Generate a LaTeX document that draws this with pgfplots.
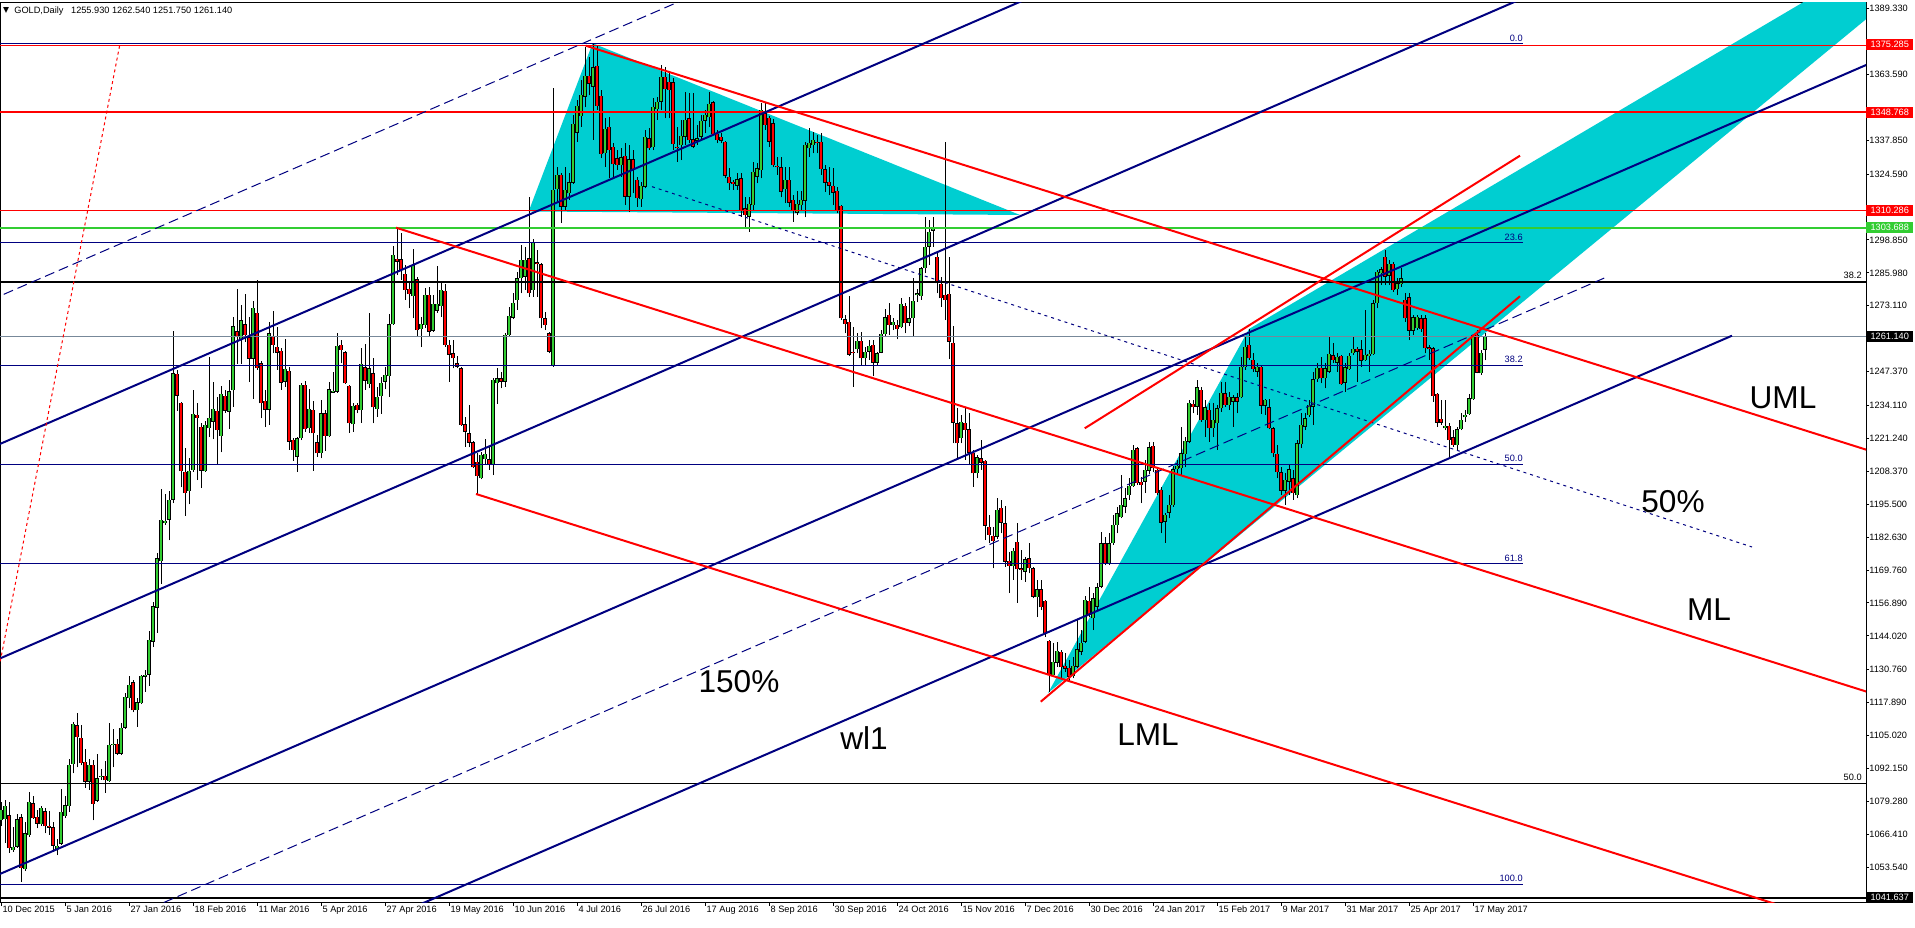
\documentclass[border=0pt]{standalone}
\usepackage{pgfplots}
\pgfplotsset{compat=1.18}
\usepackage{pgfplotstable}
\usepackage{fontspec}
\usetikzlibrary{backgrounds}
\setmainfont{Liberation Sans}
\newfontfamily\dejavu{DejaVu Sans}
\definecolor{mtnavy}{RGB}{0,0,128}
\definecolor{mtred}{RGB}{255,0,0}
\definecolor{mtgreen}{RGB}{50,205,50}
\definecolor{mtcyan}{RGB}{0,206,209}
\definecolor{mtgray}{RGB}{119,136,153}
\newcommand\mt{\fontsize{4.6}{5}\selectfont}
\newcommand\lbl{\fontsize{15.8}{18}\selectfont}

\pgfplotstableread{
i o h l c
0 1071.9 1079.0 1069.5 1075.9
1 1072.4 1079.9 1063.1 1077.5
2 1073.9 1079.1 1059.1 1061.0
3 1060.2 1069.2 1059.6 1061.5
4 1061.5 1074.3 1061.2 1072.2
5 1073.0 1074.3 1047.9 1053.2
6 1052.8 1071.1 1052.0 1066.8
7 1066.0 1083.0 1065.5 1079.1
8 1078.6 1081.4 1072.4 1072.7
9 1073.2 1075.9 1068.7 1070.6
10 1070.3 1077.5 1069.8 1076.7
11 1075.4 1076.7 1066.8 1069.5
12 1069.8 1075.5 1066.3 1069.0
13 1069.2 1071.1 1059.6 1062.0
14 1060.7 1064.7 1058.3 1062.0
15 1062.8 1084.2 1062.2 1075.1
16 1073.5 1081.4 1072.7 1077.8
17 1077.5 1095.8 1075.1 1093.7
18 1093.9 1110.4 1090.2 1109.6
19 1109.0 1113.8 1092.6 1104.5
20 1104.2 1109.3 1093.4 1094.2
21 1094.7 1099.8 1084.6 1087.0
22 1087.0 1095.8 1083.8 1093.7
23 1093.7 1095.3 1071.9 1078.3
24 1079.5 1097.9 1079.1 1088.3
25 1088.9 1091.8 1087.8 1089.4
26 1089.4 1095.0 1082.7 1087.5
27 1087.3 1109.8 1087.0 1101.4
28 1101.2 1107.7 1092.6 1101.7
29 1101.7 1103.7 1097.4 1097.9
30 1097.9 1109.8 1097.4 1108.1
31 1108.1 1121.8 1107.7 1120.2
32 1119.7 1128.5 1115.7 1124.9
33 1125.9 1126.9 1114.1 1114.9
34 1114.9 1119.7 1108.5 1118.1
35 1117.8 1128.9 1117.3 1128.5
36 1128.1 1130.8 1122.1 1128.9
37 1128.9 1146.0 1124.5 1142.5
38 1141.7 1157.1 1139.6 1155.5
39 1155.1 1176.3 1145.2 1174.4
40 1173.1 1201.4 1164.3 1189.3
41 1188.1 1199.4 1187.4 1189.0
42 1189.5 1200.5 1181.4 1197.3
43 1197.3 1263.1 1195.9 1246.7
44 1246.4 1248.0 1232.0 1237.9
45 1235.2 1235.5 1202.1 1208.4
46 1208.1 1217.4 1190.9 1199.8
47 1200.6 1213.7 1195.4 1208.6
48 1208.9 1240.0 1208.1 1230.8
49 1230.4 1235.2 1204.9 1229.2
50 1225.7 1227.3 1201.8 1208.6
51 1208.4 1228.1 1208.1 1226.5
52 1225.3 1253.2 1221.7 1229.2
53 1227.7 1243.2 1220.9 1232.8
54 1232.0 1237.6 1211.3 1224.5
55 1222.2 1241.6 1215.8 1238.7
56 1237.9 1240.0 1231.2 1232.0
57 1231.7 1244.0 1224.9 1239.7
58 1240.0 1268.7 1233.6 1265.0
59 1263.1 1279.5 1250.4 1260.7
60 1259.9 1273.5 1250.4 1267.4
61 1265.8 1277.9 1259.1 1261.5
62 1260.7 1268.7 1243.2 1252.4
63 1252.4 1275.1 1236.8 1272.2
64 1270.3 1283.0 1248.0 1248.8
65 1250.6 1251.5 1229.1 1234.9
66 1236.0 1240.2 1225.6 1232.4
67 1232.4 1266.9 1226.5 1262.3
68 1261.4 1271.2 1254.5 1257.8
69 1257.1 1264.9 1248.0 1254.8
70 1255.4 1256.5 1240.2 1243.0
71 1243.4 1260.1 1241.5 1248.4
72 1247.6 1249.3 1216.7 1220.0
73 1220.6 1221.3 1212.5 1216.7
74 1214.1 1221.9 1208.2 1221.3
75 1221.3 1243.0 1220.6 1242.1
76 1242.1 1243.8 1223.9 1224.8
77 1225.2 1240.4 1223.5 1232.7
78 1232.3 1236.0 1208.6 1223.2
79 1219.7 1222.6 1214.1 1215.4
80 1215.4 1236.3 1213.4 1231.0
81 1231.0 1232.3 1216.4 1222.2
82 1222.2 1243.2 1221.7 1240.4
83 1239.1 1247.3 1238.9 1239.8
84 1239.5 1262.3 1239.1 1257.4
85 1257.8 1259.7 1250.6 1255.8
86 1254.9 1255.5 1242.5 1242.8
87 1241.7 1242.0 1223.5 1227.1
88 1226.7 1235.0 1223.9 1233.9
89 1234.3 1235.0 1231.0 1232.3
90 1232.3 1256.5 1227.4 1250.3
91 1249.0 1258.2 1240.2 1243.8
92 1242.5 1270.1 1240.8 1248.6
93 1246.7 1252.5 1227.1 1233.4
94 1232.7 1241.5 1229.7 1237.6
95 1237.8 1245.4 1230.8 1243.0
96 1243.4 1249.3 1240.4 1246.0
97 1245.6 1269.8 1237.6 1265.8
98 1265.8 1296.5 1265.6 1293.0
99 1291.4 1303.6 1285.1 1290.4
100 1291.3 1301.4 1283.2 1287.1
101 1285.5 1289.0 1275.4 1279.3
102 1279.7 1282.5 1272.1 1277.7
103 1276.9 1295.2 1268.2 1289.0
104 1283.4 1284.5 1261.0 1263.6
105 1263.9 1268.8 1256.9 1266.0
106 1265.6 1279.9 1264.3 1277.3
107 1277.3 1280.3 1261.0 1263.0
108 1263.4 1277.3 1263.0 1273.8
109 1271.2 1288.7 1270.4 1273.8
110 1273.0 1282.5 1268.8 1279.3
111 1278.9 1281.6 1257.1 1257.8
112 1257.8 1259.7 1243.4 1253.9
113 1254.5 1259.7 1248.6 1252.5
114 1250.6 1253.5 1248.6 1249.3
115 1248.6 1249.3 1226.1 1226.5
116 1226.7 1229.7 1218.0 1223.9
117 1223.2 1234.3 1217.7 1219.6
118 1219.7 1220.4 1209.5 1209.9
119 1212.1 1215.4 1199.5 1206.5
120 1205.6 1216.0 1205.2 1214.7
121 1213.0 1220.9 1211.2 1215.1
122 1213.0 1218.3 1208.9 1210.8
123 1210.8 1244.7 1206.9 1244.1
124 1242.8 1248.6 1234.7 1244.7
125 1244.7 1247.3 1240.8 1243.4
126 1243.4 1262.3 1241.5 1261.7
127 1261.7 1272.8 1261.0 1269.1
128 1268.5 1278.0 1267.8 1274.3
129 1275.4 1286.4 1271.5 1283.8
130 1283.8 1296.9 1278.0 1291.0
131 1284.5 1296.2 1279.3 1291.0
132 1291.7 1315.8 1276.7 1278.0
133 1279.3 1299.1 1276.7 1297.9
134 1290.1 1294.9 1276.7 1289.3
135 1289.3 1290.0 1264.3 1268.2
136 1268.2 1270.8 1263.6 1265.6
137 1262.3 1263.0 1254.5 1255.2
138 1249.9 1358.2 1249.3 1318.4
139 1318.6 1327.5 1313.2 1324.3
140 1324.3 1324.9 1305.4 1311.9
141 1311.9 1327.5 1310.6 1318.4
142 1317.1 1324.9 1314.5 1321.4
143 1321.3 1347.7 1320.7 1344.2
144 1340.8 1353.6 1337.3 1351.2
145 1347.3 1361.4 1343.2 1355.5
146 1354.9 1374.4 1350.7 1363.0
147 1363.0 1370.5 1355.5 1359.9
148 1358.8 1375.7 1338.0 1366.4
149 1366.9 1375.1 1349.7 1351.2
150 1355.2 1357.5 1330.8 1332.5
151 1332.7 1346.4 1327.5 1342.2
152 1343.2 1346.8 1323.0 1334.0
153 1335.3 1336.6 1323.6 1328.4
154 1330.8 1334.0 1326.2 1328.2
155 1328.2 1334.7 1323.6 1331.2
156 1331.7 1336.6 1312.5 1315.8
157 1315.8 1336.0 1309.9 1330.4
158 1330.4 1334.0 1317.1 1326.5
159 1322.3 1323.6 1311.9 1315.1
160 1314.7 1321.6 1311.9 1320.0
161 1319.7 1341.9 1319.0 1339.2
162 1338.6 1342.5 1334.0 1334.7
163 1335.1 1354.2 1334.0 1351.0
164 1349.9 1354.9 1345.8 1352.9
165 1352.9 1367.3 1349.7 1362.7
166 1362.7 1366.6 1346.4 1357.8
167 1360.8 1364.7 1346.4 1357.5
168 1360.5 1362.1 1334.0 1336.4
169 1335.3 1343.2 1329.5 1334.7
170 1336.0 1345.8 1330.1 1339.5
171 1339.2 1356.8 1336.0 1345.8
172 1346.4 1356.2 1336.6 1337.9
173 1338.2 1356.2 1334.7 1335.3
174 1337.7 1343.8 1336.0 1338.6
175 1339.2 1347.7 1337.9 1345.5
176 1345.5 1349.7 1340.5 1347.7
177 1346.8 1356.8 1343.2 1352.0
178 1352.6 1353.0 1339.9 1340.3
179 1340.3 1341.9 1336.6 1337.9
180 1339.2 1340.5 1336.6 1337.7
181 1337.3 1337.6 1322.9 1323.9
182 1323.6 1326.9 1318.4 1321.0
183 1321.6 1322.3 1318.4 1320.7
184 1320.0 1324.9 1318.4 1322.6
185 1322.9 1324.9 1308.0 1310.6
186 1311.2 1315.8 1304.0 1308.6
187 1308.0 1315.8 1302.1 1312.9
188 1312.5 1329.5 1310.6 1325.6
189 1323.6 1329.1 1321.0 1326.9
190 1326.2 1352.3 1322.9 1349.7
191 1348.4 1352.3 1341.9 1343.8
192 1346.5 1347.5 1335.3 1337.3
193 1344.5 1346.0 1327.5 1328.2
194 1327.8 1331.4 1324.3 1327.2
195 1327.3 1331.4 1315.5 1317.7
196 1318.6 1327.5 1313.2 1322.3
197 1322.3 1327.5 1311.6 1313.4
198 1314.5 1316.4 1306.0 1310.6
199 1309.5 1318.1 1308.6 1312.9
200 1312.5 1318.1 1310.6 1314.5
201 1314.2 1337.3 1307.7 1336.0
202 1334.7 1342.5 1331.4 1336.9
203 1336.0 1341.2 1332.7 1337.9
204 1337.2 1339.9 1332.7 1336.6
205 1337.3 1340.5 1324.3 1326.5
206 1326.5 1328.2 1317.7 1321.3
207 1321.6 1327.5 1316.4 1320.0
208 1320.0 1326.9 1312.5 1317.3
209 1318.0 1319.7 1309.3 1310.6
210 1312.1 1312.5 1267.5 1268.2
211 1267.8 1269.5 1262.3 1266.0
212 1266.9 1276.9 1253.5 1253.9
213 1255.2 1264.9 1241.5 1254.5
214 1256.1 1262.3 1254.5 1259.5
215 1259.5 1263.0 1250.0 1252.5
216 1252.5 1257.1 1249.6 1255.2
217 1255.2 1259.7 1251.9 1257.4
218 1257.8 1259.7 1245.6 1250.9
219 1250.9 1254.9 1250.0 1254.5
220 1254.8 1263.6 1254.5 1262.1
221 1262.1 1271.7 1261.3 1268.6
222 1269.5 1274.3 1261.7 1265.6
223 1265.6 1268.2 1263.6 1266.9
224 1265.6 1267.5 1260.0 1263.9
225 1264.7 1276.0 1264.3 1273.8
226 1273.0 1274.3 1262.3 1266.2
227 1266.5 1276.7 1265.0 1268.2
228 1268.2 1283.8 1261.0 1275.0
229 1277.3 1279.5 1274.7 1278.0
230 1276.9 1288.4 1275.4 1287.8
231 1287.8 1307.9 1285.8 1296.2
232 1296.2 1306.6 1289.0 1302.1
233 1302.5 1307.9 1296.2 1304.0
234 1292.3 1294.3 1278.0 1281.9
235 1281.6 1284.5 1272.8 1276.0
236 1277.3 1337.3 1267.5 1275.4
237 1277.7 1292.3 1252.2 1259.1
238 1258.7 1265.2 1219.3 1227.4
239 1227.1 1233.0 1212.8 1219.3
240 1221.3 1230.4 1219.3 1227.8
241 1227.4 1233.0 1212.8 1224.5
242 1224.8 1231.0 1210.8 1215.7
243 1215.7 1216.7 1202.4 1207.6
244 1207.6 1214.7 1205.6 1213.9
245 1213.4 1220.6 1208.9 1211.8
246 1212.4 1212.8 1181.5 1187.1
247 1186.7 1191.3 1180.2 1183.5
248 1183.1 1186.7 1170.4 1181.1
249 1182.8 1197.8 1181.8 1193.2
250 1194.2 1197.1 1184.1 1188.3
251 1188.0 1194.8 1171.1 1173.0
252 1173.4 1176.9 1160.7 1171.3
253 1171.3 1178.3 1165.9 1177.2
254 1180.8 1188.0 1157.0 1170.0
255 1170.4 1177.6 1165.9 1169.8
256 1169.1 1175.0 1165.2 1173.9
257 1174.3 1180.2 1168.5 1170.4
258 1170.4 1171.1 1158.7 1159.3
259 1159.1 1165.9 1151.3 1162.2
260 1162.2 1165.9 1154.1 1155.2
261 1157.8 1158.0 1143.7 1144.7
262 1142.1 1142.4 1122.2 1128.7
263 1128.7 1141.4 1128.1 1133.9
264 1133.5 1141.8 1132.0 1138.2
265 1137.8 1138.5 1127.4 1131.7
266 1132.2 1137.2 1130.0 1131.2
267 1131.6 1134.6 1126.1 1128.1
268 1128.3 1135.9 1127.4 1132.2
269 1132.0 1150.2 1131.3 1138.7
270 1137.8 1146.3 1136.5 1141.4
271 1141.8 1159.6 1141.1 1158.0
272 1157.8 1163.3 1151.3 1152.2
273 1150.9 1160.7 1146.3 1158.7
274 1155.4 1164.6 1154.1 1163.0
275 1163.3 1184.8 1162.6 1180.2
276 1180.2 1182.8 1171.7 1172.1
277 1172.1 1184.1 1171.7 1180.2
278 1180.2 1191.3 1179.6 1187.4
279 1187.4 1194.5 1184.1 1191.9
280 1190.4 1206.9 1190.0 1195.2
281 1194.5 1201.7 1191.9 1197.8
282 1199.1 1205.6 1197.1 1202.6
283 1202.6 1218.7 1202.4 1216.7
284 1217.4 1217.8 1203.0 1203.7
285 1204.3 1206.3 1195.9 1203.0
286 1204.3 1212.8 1199.8 1208.9
287 1208.6 1220.0 1207.3 1217.7
288 1218.3 1220.0 1208.2 1209.5
289 1208.9 1209.9 1199.1 1199.8
290 1201.1 1202.4 1184.1 1188.3
291 1188.7 1192.2 1180.5 1191.3
292 1192.2 1199.1 1190.0 1195.2
293 1195.2 1210.4 1194.5 1209.1
294 1209.1 1212.8 1207.3 1210.4
295 1209.5 1225.8 1206.9 1215.4
296 1215.1 1221.9 1209.9 1220.2
297 1220.0 1236.3 1219.3 1235.2
298 1234.7 1236.3 1231.0 1233.4
299 1233.7 1244.1 1230.4 1241.2
300 1240.2 1241.5 1227.8 1228.4
301 1228.4 1236.3 1221.9 1233.4
302 1232.3 1234.9 1220.0 1225.2
303 1225.2 1234.9 1221.9 1228.4
304 1227.1 1234.3 1216.7 1233.0
305 1233.0 1243.4 1231.7 1239.1
306 1238.9 1243.4 1233.7 1234.3
307 1234.3 1239.5 1232.3 1237.6
308 1235.6 1238.2 1225.8 1237.3
309 1237.3 1238.9 1231.0 1235.6
310 1237.3 1253.2 1236.9 1249.3
311 1249.0 1261.0 1248.0 1257.1
312 1257.8 1263.9 1251.9 1252.5
313 1251.9 1254.5 1247.3 1248.2
314 1247.3 1250.6 1245.4 1249.3
315 1249.3 1249.9 1230.8 1234.0
316 1234.0 1236.5 1230.4 1236.3
317 1233.4 1236.5 1224.8 1225.2
318 1225.2 1225.8 1214.1 1215.4
319 1215.1 1218.7 1205.6 1208.0
320 1208.0 1210.2 1199.1 1200.8
321 1200.8 1207.6 1195.2 1205.0
322 1204.3 1210.8 1199.1 1209.1
323 1205.6 1208.9 1197.2 1199.8
324 1199.1 1220.6 1197.8 1219.3
325 1219.0 1231.0 1217.4 1226.5
326 1225.8 1231.0 1224.5 1229.1
327 1230.4 1236.3 1229.7 1234.3
328 1233.7 1247.3 1226.5 1244.3
329 1244.3 1250.6 1243.4 1248.9
330 1248.9 1253.2 1242.8 1244.7
331 1244.7 1250.6 1240.8 1248.6
332 1247.3 1261.0 1246.7 1254.2
333 1253.8 1258.4 1250.6 1251.9
334 1250.9 1254.5 1247.3 1253.2
335 1253.5 1253.8 1242.1 1242.5
336 1243.0 1250.6 1239.5 1249.0
337 1248.2 1254.5 1248.0 1253.5
338 1254.5 1261.0 1253.8 1256.2
339 1256.2 1257.1 1243.4 1255.2
340 1256.1 1259.7 1249.3 1251.6
341 1251.9 1271.5 1251.6 1253.9
342 1253.5 1255.8 1247.3 1254.2
343 1254.2 1275.4 1253.9 1274.1
344 1274.1 1287.1 1272.1 1286.4
345 1285.8 1288.4 1281.2 1287.4
346 1292.3 1294.9 1281.2 1284.5
347 1284.8 1291.0 1281.2 1289.4
348 1289.4 1290.4 1278.6 1279.3
349 1279.5 1283.8 1277.3 1281.9
350 1281.5 1287.7 1280.6 1283.8
351 1275.4 1278.0 1266.9 1268.2
352 1276.4 1278.0 1259.7 1263.4
353 1263.4 1269.5 1261.7 1268.6
354 1264.3 1269.5 1263.6 1268.9
355 1268.2 1269.5 1263.0 1263.9
356 1268.2 1269.5 1254.5 1256.5
357 1256.9 1257.8 1251.9 1256.1
358 1256.5 1257.1 1235.6 1237.8
359 1238.6 1238.9 1225.8 1227.4
360 1228.8 1236.3 1226.5 1227.4
361 1225.2 1236.3 1224.5 1226.1
362 1226.1 1227.1 1214.1 1220.6
363 1221.7 1224.5 1218.0 1218.7
364 1218.7 1225.8 1216.7 1224.8
365 1224.8 1231.0 1224.5 1228.4
366 1229.5 1232.3 1227.8 1230.4
367 1230.8 1238.6 1230.4 1236.9
368 1236.5 1261.7 1236.3 1261.0
369 1261.7 1263.6 1246.7 1246.9
370 1246.7 1255.8 1246.0 1254.8
371 1255.93 1262.54 1251.75 1261.14
}\candles

\pgfplotsset{candle/.style={draw=none, mark=none, forget plot,
  error bars/y dir=plus, error bars/y explicit, error bars/error mark=none}}

\begin{document}
\begin{tikzpicture}
\begin{axis}[name=ax, scale only axis, width=933pt, height=450pt,
  xmin=-0.25, xmax=466.25, ymin=1039.66, ymax=1391.63,
  clip mode=individual,
  axis line style={black, line width=0.5pt},
  xtick={0,16,...,368},
  xticklabels={10 Dec 2015, 5 Jan 2016, 27 Jan 2016, 18 Feb 2016, 11 Mar 2016, 5 Apr 2016, 27 Apr 2016, 19 May 2016, 10 Jun 2016, 4 Jul 2016, 26 Jul 2016, 17 Aug 2016, 8 Sep 2016, 30 Sep 2016, 24 Oct 2016, 15 Nov 2016, 7 Dec 2016, 30 Dec 2016, 24 Jan 2017, 15 Feb 2017, 9 Mar 2017, 31 Mar 2017, 25 Apr 2017, 17 May 2017},
  ytick={1053.54,1066.41,1079.28,1092.15,1105.02,1117.89,1130.76,1144.02,1156.89,1169.76,1182.63,1195.50,1208.37,1221.24,1234.11,1247.37,1273.11,1285.98,1298.85,1324.59,1337.85,1363.59,1389.33},
  yticklabels={1053.540,1066.410,1079.280,1092.150,1105.020,1117.890,1130.760,1144.020,1156.890,1169.760,1182.630,1195.500,1208.370,1221.240,1234.110,1247.370,1273.110,1285.980,1298.850,1324.590,1337.850,1363.590,1389.330},
  xtick pos=bottom, ytick pos=right, yticklabel pos=right,
  tick align=outside, major tick length=1.5pt,
  tick style={black, line width=0.5pt},
  ticklabel style={font=\mt},
  xticklabel style={anchor=north west, inner sep=0pt, xshift=0.6pt},
  yticklabel style={anchor=west, inner sep=0pt},
]
% cyan areas
\addplot[fill=mtcyan, draw=none] coordinates {(131.9,1309.98) (147.9,1375.76) (254.75,1308.61)} --cycle;
\addplot[fill=mtcyan, draw=none] coordinates {(261.75,1121.67) (312,1264.03) (524,1459.56)} --cycle;

% candles: wicks
\addplot[candle, error bars/error bar style={draw=black, line width=0.5pt}]
  table[x=i, y=l, y error plus expr=\thisrow{h}-\thisrow{l}] {\candles};
% up bodies
\addplot[candle, restrict expr to domain={\thisrow{c}-\thisrow{o}}{0:500},
  error bars/error bar style={draw=black, line width=1.6pt}]
  table[x=i, y=o, y error plus expr=\thisrow{c}-\thisrow{o}] {\candles};
\addplot[candle, restrict expr to domain={\thisrow{c}-\thisrow{o}}{0:500},
  error bars/error bar style={draw=mtgreen, line width=1.1pt}]
  table[x=i, y expr=\thisrow{o}+0.15, y error plus expr=\thisrow{c}-\thisrow{o}-0.3] {\candles};
% down bodies
\addplot[candle, restrict expr to domain={\thisrow{o}-\thisrow{c}}{0.0001:500},
  error bars/error bar style={draw=black, line width=1.6pt}]
  table[x=i, y=c, y error plus expr=\thisrow{o}-\thisrow{c}] {\candles};
\addplot[candle, restrict expr to domain={\thisrow{o}-\thisrow{c}}{0.0001:500},
  error bars/error bar style={draw=mtred, line width=1.1pt}]
  table[x=i, y expr=\thisrow{c}+0.15, y error plus expr=\thisrow{o}-\thisrow{c}-0.3] {\candles};

% horizontal levels
\addplot[mtnavy, line width=0.5pt] coordinates {(-1,1375.5) (380.5,1375.5)};
\addplot[mtnavy, line width=0.5pt] coordinates {(-1,1297.8) (380.5,1297.8)};
\addplot[mtnavy, line width=0.5pt] coordinates {(-1,1249.9) (380.5,1249.9)};
\addplot[mtnavy, line width=0.5pt] coordinates {(-1,1211.1) (380.5,1211.1)};
\addplot[mtnavy, line width=0.5pt] coordinates {(-1,1172.3) (380.5,1172.3)};
\addplot[mtnavy, line width=0.5pt] coordinates {(-1,1046.9) (380.5,1046.9)};
\addplot[mtred, line width=0.75pt] coordinates {(-1,1374.9) (470,1374.9)};
\addplot[mtred, line width=1pt] coordinates {(-1,1348.77) (470,1348.77)};
\addplot[mtred, line width=0.5pt] coordinates {(-1,1310.29) (470,1310.29)};
\addplot[mtgreen, line width=1pt] coordinates {(-1,1303.69) (470,1303.69)};
\addplot[black, line width=0.9pt] coordinates {(-1,1282.5) (470,1282.5)};
\addplot[black, line width=0.9pt] coordinates {(-1,1086.3) (470,1086.3)};
\addplot[black, line width=0.9pt] coordinates {(-1,1041.64) (470,1041.64)};
\addplot[mtgray, line width=0.5pt] coordinates {(-1,1261.14) (470,1261.14)};

% navy rising lines
\addplot[mtnavy, line width=0.5pt, dash pattern=on 5pt off 2.5pt] coordinates {(-2.75,1275.25) (172.25,1393.9)};
\addplot[mtnavy, line width=1pt] coordinates {(-2.75,1217.37) (257.25,1393.67)};
\addplot[mtnavy, line width=1pt] coordinates {(-2.75,1133.49) (382.25,1394.57)};
\addplot[mtnavy, line width=1pt] coordinates {(-2.75,1049.21) (469.75,1369.62)};
\addplot[mtnavy, line width=1pt] coordinates {(102.25,1037.28) (432.75,1261.41)};
\addplot[mtnavy, line width=0.5pt, dash pattern=on 5pt off 2.5pt] coordinates {(37.25,1037.40) (401.25,1284.24)};
\addplot[mtnavy, line width=0.5pt, dash pattern=on 1.5pt off 2pt] coordinates {(162.75,1319.68) (437.75,1178.77)};
% red dotted
\addplot[mtred, line width=0.5pt, dash pattern=on 1.5pt off 1.5pt] coordinates {(-2.75,1113.3) (29.65,1374.82)};
% pitchfork
\addplot[mtred, line width=1pt] coordinates {(146.18,1374.82) (469.75,1215.12)};
\addplot[mtred, line width=1pt] coordinates {(98.75,1303.64) (469.75,1120.54)};
\addplot[mtred, line width=1pt] coordinates {(118.75,1199.50) (469.75,1026.26)};
% red rising channel
\addplot[mtred, line width=1pt] coordinates {(259.93,1118.27) (379.75,1276.85)};
\addplot[mtred, line width=1pt] coordinates {(270.93,1225.19) (379.75,1331.80)};

% fib labels
\node[anchor=south east, inner sep=0pt, yshift=1pt, font=\mt, text=mtnavy] at (axis cs:380.5,1375.5) {0.0};
\node[anchor=south east, inner sep=0pt, yshift=1pt, font=\mt, text=mtnavy] at (axis cs:380.5,1297.8) {23.6};
\node[anchor=south east, inner sep=0pt, yshift=1pt, font=\mt, text=mtnavy] at (axis cs:380.5,1249.9) {38.2};
\node[anchor=south east, inner sep=0pt, yshift=1pt, font=\mt, text=mtnavy] at (axis cs:380.5,1211.1) {50.0};
\node[anchor=south east, inner sep=0pt, yshift=1pt, font=\mt, text=mtnavy] at (axis cs:380.5,1172.3) {61.8};
\node[anchor=south east, inner sep=0pt, yshift=1pt, font=\mt, text=mtnavy] at (axis cs:380.5,1046.9) {100.0};
\node[anchor=south east, inner sep=0pt, yshift=1.2pt, font=\mt] at (axis cs:465.25,1282.5) {38.2};
\node[anchor=south east, inner sep=0pt, yshift=1.2pt, font=\mt] at (axis cs:465.25,1086.3) {50.0};

% big labels
\node[font=\lbl] at (axis cs:445.5,1237.04) {UML};
\node[font=\lbl] at (axis cs:427,1154.13) {ML};
\node[font=\lbl] at (axis cs:418,1196.37) {50\%};
\node[font=\lbl] at (axis cs:286.75,1105.24) {LML};
\node[font=\lbl] at (axis cs:215.75,1104.07) {wl1};
\node[font=\lbl] at (axis cs:184.5,1126.0) {150\%};

% title
\node[anchor=west, font=\mt, inner sep=0pt] at (axis cs:3.25,1388.5) {GOLD,Daily\ \ \ 1255.930 1262.540 1251.750 1261.140};
\node[font=\dejavu\fontsize{3.9}{4}\selectfont, inner sep=0pt] at (axis cs:1.25,1388.4) {▼};

% price boxes
\node[fill=mtred, text=white, font=\mt, anchor=west, inner sep=0pt, minimum width=23.3pt, minimum height=5.4pt] at (axis cs:466.25,1375.285) {1375.285};
\node[fill=mtred, text=white, font=\mt, anchor=west, inner sep=0pt, minimum width=23.3pt, minimum height=5.4pt] at (axis cs:466.25,1348.768) {1348.768};
\node[fill=mtred, text=white, font=\mt, anchor=west, inner sep=0pt, minimum width=23.3pt, minimum height=5.4pt] at (axis cs:466.25,1310.286) {1310.286};
\node[fill=mtgreen, text=white, font=\mt, anchor=west, inner sep=0pt, minimum width=23.3pt, minimum height=5.4pt] at (axis cs:466.25,1303.688) {1303.688};
\node[fill=black, text=white, font=\mt, anchor=west, inner sep=0pt, minimum width=23.3pt, minimum height=5.4pt] at (axis cs:466.25,1261.14) {1261.140};
\node[fill=black, text=white, font=\mt, anchor=west, inner sep=0pt, minimum width=23.3pt, minimum height=5.4pt] at (axis cs:466.25,1041.637) {1041.637};
\end{axis}
\pgfresetboundingbox
\path[use as bounding box] ([yshift=-12.15pt]ax.south west) rectangle ([xshift=24.5pt,yshift=1.35pt]ax.north east);
\begin{scope}[on background layer]
\fill[white] ([yshift=-12.15pt]ax.south west) rectangle ([xshift=24.5pt,yshift=1.35pt]ax.north east);
\end{scope}
\end{tikzpicture}
\end{document}
